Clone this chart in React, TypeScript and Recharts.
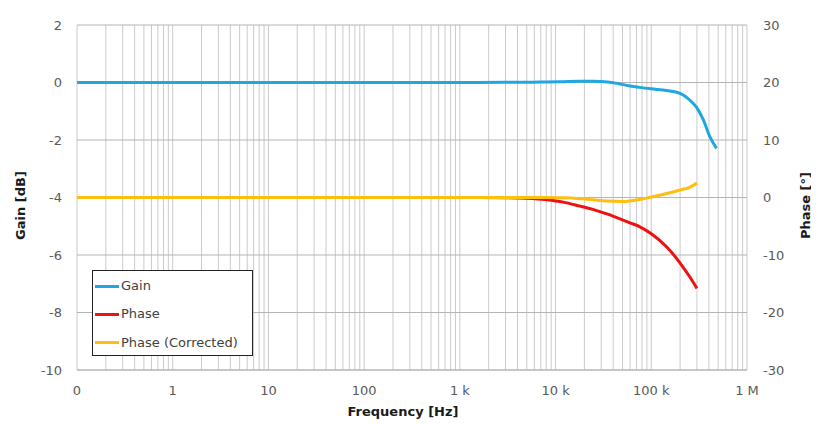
import React from 'react';
import { LineChart, Line, XAxis, YAxis, CartesianGrid, Legend } from 'recharts';

// Frequency points [Hz]
const freq = [0.1, 1, 10, 100, 1000, 3000, 5000, 8000, 12000, 18000, 25000, 35000, 47000, 60000, 76000, 100000, 145000, 200000, 250000, 300000, 350000, 410000, 480000];
// Gain [dB]
const gain = [0, 0, 0, 0, 0, 0.01, 0.01, 0.02, 0.03, 0.04, 0.04, 0.02, -0.05, -0.12, -0.17, -0.22, -0.28, -0.38, -0.6, -0.88, -1.3, -1.89, -2.29];
// Phase [deg]
const phase = [0, 0, 0, 0, 0, -0.05, -0.15, -0.4, -0.8, -1.5, -2.1, -2.9, -3.7, -4.4, -5.1, -6.3, -8.6, -11.4, -13.7, -15.8, null, null, null];
// Phase corrected [deg]
const phaseCorrected = [0, 0, 0, 0, 0, 0, 0, 0, -0.05, -0.2, -0.4, -0.6, -0.7, -0.6, -0.35, 0.1, 0.7, 1.3, 1.75, 2.5, null, null, null];

const xTicks = [0.1, 1, 10, 100, 1000, 10000, 100000, 1000000];
const xTickLabels = ['0', '1', '10', '100', '1 k', '10 k', '100 k', '1 M'];
const gainTicks = [-10, -8, -6, -4, -2, 0, 2];
const phaseTicks = [-30, -20, -10, 0, 10, 20, 30];

const data = freq.map((f, i) => ({ f, gain: gain[i], phase: phase[i], corrected: phaseCorrected[i] }));

const minorGrid: number[] = [];
for (let d = -1; d < 6; d++) {
  for (let m = 1; m <= 9; m++) minorGrid.push(m * Math.pow(10, d));
}
minorGrid.push(1000000);

const FONT = '"DejaVu Sans", Verdana, sans-serif';
const C_GAIN = '#1ea7e1';
const C_PHASE = '#f01010';
const C_CORR = '#ffbf10';

const legendItems = [
  { label: 'Gain', color: C_GAIN },
  { label: 'Phase', color: C_PHASE },
  { label: 'Phase (Corrected)', color: C_CORR },
];

const LegendBox = () => (
  <div style={{ width: 161, height: 86, border: '1.5px solid #222', background: '#fff', boxSizing: 'border-box', paddingTop: 1, fontFamily: FONT, fontSize: 13, color: '#404040', textAlign: 'left' }}>
    {legendItems.map((it) => (
      <div key={it.label} style={{ display: 'flex', alignItems: 'center', height: 28.3 }}>
        <div style={{ width: 24, height: 3, background: it.color, marginLeft: 2, marginRight: 2 }} />
        <span style={{ lineHeight: '14px' }}>{it.label}</span>
      </div>
    ))}
  </div>
);

const tickStyle = { fontFamily: FONT, fontSize: 13, fill: '#595959' };

export default function App() {
  return (
    <LineChart width={803} height={412} data={data} margin={{ top: 17, right: 0, bottom: 0, left: 0 }}>
      <CartesianGrid horizontal={false} vertical verticalValues={minorGrid} stroke="#cbcbcb" strokeWidth={1} />
      <CartesianGrid horizontal vertical={false} horizontalValues={gainTicks} stroke="#b5b5b5" strokeWidth={1} />
      <XAxis
        dataKey="f"
        type="number"
        scale="log"
        domain={[0.1, 1000000]}
        allowDataOverflow
        ticks={xTicks}
        tickFormatter={(v: number) => xTickLabels[xTicks.findIndex((t) => Math.abs(t - v) / t < 1e-6)] ?? ''}
        tick={tickStyle}
        tickLine={false}
        axisLine={{ stroke: '#b5b5b5' }}
        tickSize={0}
        tickMargin={16}
        height={50}
        interval={0}
        label={{
          content: (p: any) => {
            const vb = p.viewBox || {};
            return (
              <text x={vb.x + vb.width / 2 - 9} y={vb.y + 41} textAnchor="middle" dominantBaseline="central" fontFamily={FONT} fontSize={13} fontWeight="bold" fill="#1a1a1a">
                Frequency [Hz]
              </text>
            );
          },
        }}
      />
      <YAxis
        yAxisId={0}
        domain={[-10, 2]}
        ticks={gainTicks}
        tick={tickStyle}
        tickLine={false}
        axisLine={false}
        tickSize={0}
        tickMargin={15}
        width={69}
        interval={0}
        label={{
          content: (p: any) => {
            const vb = p.viewBox || {};
            const x = vb.x + 12;
            const y = vb.y + vb.height / 2 + 8;
            return (
              <text x={x} y={y} transform={`rotate(-90, ${x}, ${y})`} textAnchor="middle" dominantBaseline="central" fontFamily={FONT} fontSize={13} fontWeight="bold" fill="#1a1a1a">
                Gain [dB]
              </text>
            );
          },
        }}
      />
      <YAxis
        yAxisId="right"
        orientation="right"
        domain={[-30, 30]}
        ticks={phaseTicks}
        tick={{ ...tickStyle, textAnchor: 'start' }}
        tickLine={false}
        axisLine={false}
        tickSize={0}
        tickMargin={16}
        width={64}
        interval={0}
        label={{
          content: (p: any) => {
            const vb = p.viewBox || {};
            const x = vb.x + 58;
            const y = vb.y + vb.height / 2 + 8;
            return (
              <text x={x} y={y} transform={`rotate(-90, ${x}, ${y})`} textAnchor="middle" dominantBaseline="central" fontFamily={FONT} fontSize={13} fontWeight="bold" fill="#1a1a1a">
                Phase [°]
              </text>
            );
          },
        }}
      />
      <Legend
        layout="horizontal"
        verticalAlign="middle"
        align="center"
        wrapperStyle={{ left: 84, top: 262, width: 161, height: 86 }}
        content={() => <LegendBox />}
      />
      <Line yAxisId={0} dataKey="gain" name="Gain" type="monotone" stroke={C_GAIN} strokeWidth={3} dot={false} isAnimationActive={false} connectNulls={false} />
      <Line yAxisId="right" dataKey="phase" name="Phase" type="monotone" stroke={C_PHASE} strokeWidth={3} dot={false} isAnimationActive={false} connectNulls={false} />
      <Line yAxisId="right" dataKey="corrected" name="Phase (Corrected)" type="monotone" stroke={C_CORR} strokeWidth={3} dot={false} isAnimationActive={false} connectNulls={false} />
    </LineChart>
  );
}
